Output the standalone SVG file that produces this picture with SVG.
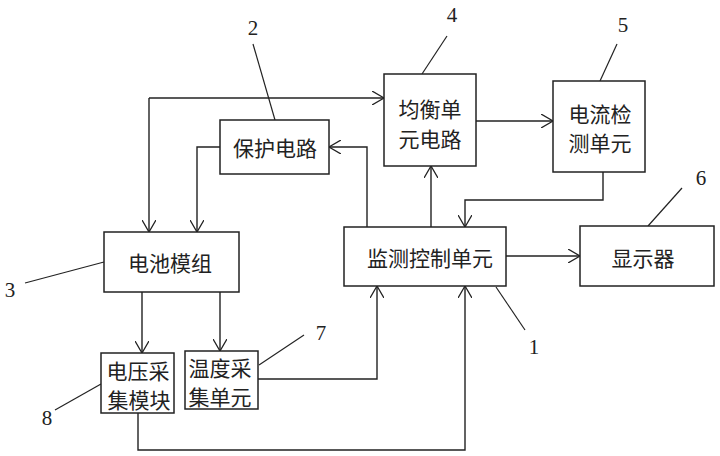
<svg xmlns="http://www.w3.org/2000/svg" width="720" height="456" viewBox="0 0 720 456">
<style>
.box{fill:#fff;stroke:#222;stroke-width:1.5}
.t{font-family:"Noto Sans CJK SC","Noto Sans",sans-serif;font-size:21px;fill:#222;text-anchor:middle;dominant-baseline:central}
.n{font-family:"Liberation Serif",serif;font-size:21px;fill:#222;text-anchor:middle;dominant-baseline:central}
.c{fill:none;stroke:#222;stroke-width:1.4}
.l{fill:none;stroke:#222;stroke-width:1.2}
</style>
<defs>
<marker id="a" markerUnits="userSpaceOnUse" viewBox="0 0 12 14" refX="12" refY="7" markerWidth="12" markerHeight="14" orient="auto">
<path d="M0,0 L12,7 L0,14" fill="none" stroke="#222" stroke-width="1.3"/>
</marker>
</defs>
<g id="connectors">
<path class="c" d="M149,98 V232" marker-end="url(#a)"/>
<path class="c" d="M149,98 H384" marker-end="url(#a)"/>
<path class="c" d="M220,147 H197 V232" marker-end="url(#a)"/>
<path class="c" d="M367,227 V147 H329" marker-end="url(#a)"/>
<path class="c" d="M431,227 V166" marker-end="url(#a)"/>
<path class="c" d="M476,121 H553" marker-end="url(#a)"/>
<path class="c" d="M603,172 V200 H465 V227" marker-end="url(#a)"/>
<path class="c" d="M506,256 H580" marker-end="url(#a)"/>
<path class="c" d="M142,292 V353" marker-end="url(#a)"/>
<path class="c" d="M220,292 V351" marker-end="url(#a)"/>
<path class="c" d="M258,379 H377 V286" marker-end="url(#a)"/>
<path class="c" d="M138,413 V450 H465 V286" marker-end="url(#a)"/>
</g>
<g id="leaders">
<path class="l" d="M253,44 L275,120"/>
<path class="l" d="M447,36 L422,74"/>
<path class="l" d="M617,44 L600,81"/>
<path class="l" d="M682,188 L648,226"/>
<path class="l" d="M25,283 L104,262"/>
<path class="l" d="M55,410 L101,384"/>
<path class="l" d="M304,335 L259,365"/>
<path class="l" d="M525,330 L496,287"/>
<text class="n" x="253" y="28">2</text>
<text class="n" x="452" y="15">4</text>
<text class="n" x="623" y="25">5</text>
<text class="n" x="701" y="178">6</text>
<text class="n" x="10" y="290">3</text>
<text class="n" x="47" y="418">8</text>
<text class="n" x="321" y="333">7</text>
<text class="n" x="534" y="347">1</text>
</g>
<g id="n-protect">
<rect class="box" x="220" y="120" width="109" height="54"/>
<text class="t" x="275" y="147">保护电路</text>
</g>
<g id="n-balance">
<rect class="box" x="384" y="74" width="92" height="92"/>
<text class="t" x="430" y="108">均衡单</text>
<text class="t" x="430" y="138">元电路</text>
</g>
<g id="n-current">
<rect class="box" x="553" y="81" width="92" height="91"/>
<text class="t" x="600" y="113">电流检</text>
<text class="t" x="600" y="142">测单元</text>
</g>
<g id="n-battery">
<rect class="box" x="104" y="232" width="135" height="60"/>
<text class="t" x="170" y="262">电池模组</text>
</g>
<g id="n-monitor">
<rect class="box" x="344" y="227" width="162" height="59"/>
<text class="t" x="430" y="257">监测控制单元</text>
</g>
<g id="n-display">
<rect class="box" x="580" y="226" width="134" height="60"/>
<text class="t" x="643" y="257">显示器</text>
</g>
<g id="n-voltage">
<rect class="box" x="101" y="353" width="73" height="60"/>
<text class="t" x="138" y="370">电压采</text>
<text class="t" x="139" y="399">集模块</text>
</g>
<g id="n-temp">
<rect class="box" x="185" y="351" width="73" height="58"/>
<text class="t" x="220" y="367">温度采</text>
<text class="t" x="220" y="396">集单元</text>
</g>
</svg>
